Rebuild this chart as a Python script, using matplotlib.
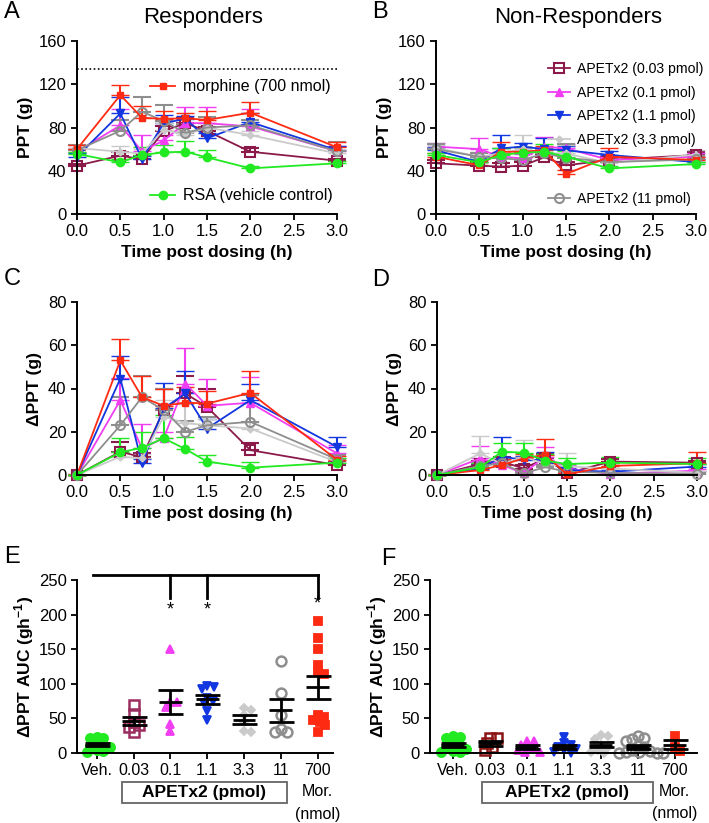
import numpy as np
import matplotlib
matplotlib.use("Agg")
import matplotlib.pyplot as plt
from matplotlib.lines import Line2D
from matplotlib.patches import Rectangle
import matplotlib.transforms as mtransforms

plt.rcParams['font.family'] = ['Liberation Sans', 'DejaVu Sans']
plt.rcParams['mathtext.fontset'] = 'custom'
plt.rcParams['mathtext.rm'] = 'Liberation Sans'
plt.rcParams['mathtext.bf'] = 'Liberation Sans:bold'

# ---- data -------------------------------------------------------------
times = [0, 0.5, 0.75, 1.0, 1.25, 1.5, 2.0, 3.0]
series_names = ['APETx2 (0.03 pmol)', 'APETx2 (0.1 pmol)', 'APETx2 (1.1 pmol)',
                'APETx2 (3.3 pmol)', 'APETx2 (11 pmol)', 'morphine (700 nmol)',
                'RSA (vehicle control)']

# Panel A: PPT responders (mean, upper SEM)
ppt_resp = {
    'maroon':  [44.7, 54, 50.6, 76.8, 83.9, 76.8, 57.6, 49.3],
    'magenta': [57.6, 82, 58, 68, 84, 84, 81, 58],
    'blue':    [53, 93, 51, 84, 88, 70, 85, 59],
    'lgray':   [61, 57.6, 56, 78, 73, 80, 73, 56],
    'gray':    [59, 77, 94.6, 86, 75, 80, 82, 58],
    'red':     [60, 110, 89, 88, 88.5, 87, 93.7, 61.7],
    'green':   [55.5, 47.8, 54.6, 57, 57.6, 52.4, 42.2, 46.9],
}
ppt_resp_err = {
    'maroon':  [2, 3, 3, 5, 5, 4, 3, 2],
    'magenta': [3, 15, 15, 5, 15, 15, 16, 5],
    'blue':    [3, 15, 3, 8, 3, 5, 8, 4],
    'lgray':   [3, 5, 4, 6, 4, 4, 4, 3],
    'gray':    [5, 10, 14, 15, 8, 10, 5, 9],
    'red':     [4, 9, 11, 7, 5, 8, 10, 5],
    'green':   [2, 3, 7.7, 6.8, 9.9, 6.6, 2, 2],
}

# Panel B: PPT non-responders
ppt_non = {
    'maroon':  [46.9, 44.7, 43.8, 44.7, 52.4, 45, 50, 54.6],
    'magenta': [62.3, 60, 53, 51.5, 62.3, 60.7, 50, 53],
    'blue':    [59, 48, 60.7, 62.3, 60, 59, 54.6, 48],
    'lgray':   [61, 53, 56, 60, 56, 56, 47, 55],
    'gray':    [60, 53, 51.5, 50, 56, 52, 48, 50.5],
    'red':     [53, 45, 57.6, 57.6, 59, 37, 53, 50],
    'green':   [54.6, 47.8, 54.6, 56.7, 57.6, 53, 42.2, 46.2],
}
ppt_non_err = {
    'maroon':  [3, 3, 3, 3, 3, 3, 3, 3],
    'magenta': [3, 10, 4, 4, 9, 4, 3, 3],
    'blue':    [3, 3, 12, 3, 10, 4, 4, 3],
    'lgray':   [3, 4, 4, 13, 5, 8, 3, 4],
    'gray':    [5, 3, 4, 6, 4, 13, 3, 3],
    'red':     [3, 3, 9, 4, 4, 4, 8, 3],
    'green':   [2, 3, 6, 5, 7, 5, 2, 2],
}

# Panel C: delta PPT responders
dppt_resp = {
    'maroon':  [0, 10.8, 8.2, 30, 37.7, 31.5, 11.5, 4.6],
    'magenta': [0, 34.6, 12.3, 17, 42.3, 32, 33.4, 10],
    'blue':    [0, 44.6, 5.4, 30.8, 37.7, 21.5, 34.6, 13],
    'lgray':   [0, 8.5, 7.7, 27, 24, 23, 21.5, 6],
    'gray':    [0, 23, 36, 30, 20, 23, 24.6, 7.2],
    'red':     [0, 53, 36, 32, 33.5, 33, 38, 7],
    'green':   [0, 10.5, 12.6, 17, 12, 6.2, 3.4, 5.7],
}
dppt_resp_err = {
    'maroon':  [0, 4.6, 2, 10, 8.3, 8.5, 3.1, 1.5],
    'magenta': [0, 10.4, 11.5, 3, 16.2, 12.6, 12, 3.8],
    'blue':    [0, 10.4, 2, 11.8, 10.3, 4.5, 7.4, 4.7],
    'lgray':   [0, 2, 2, 7.6, 9, 3, 3, 2],
    'gray':    [0, 13, 10, 10, 5, 4, 12.4, 2],
    'red':     [0, 10, 10, 8, 7, 6, 10, 2],
    'green':   [0, 6.5, 7.4, 10.7, 5.7, 3, 2.8, 2],
}

# Panel D: delta PPT non-responders
dppt_non = {
    'maroon':  [0, 5.1, 6.2, 3, 7.7, 0.8, 6.2, 5.7],
    'magenta': [0, 7.7, 4.6, 0.8, 8.5, 3, 0.5, 2],
    'blue':    [0, 3, 8.5, 7, 7, 2.3, 1.5, 3.9],
    'lgray':   [0, 10, 5, 8.5, 5, 4, 3, 1],
    'gray':    [0, 4.2, 5.4, 0.8, 3.6, 1.5, 1, 0.5],
    'red':     [0, 2.3, 4.6, 7.7, 9.3, 0.3, 4.2, 5.4],
    'green':   [0, 3.6, 10.8, 10.3, 6.6, 5.1, 5.7, 5.1],
}
dppt_non_err = {
    'maroon':  [0, 1.5, 2, 1.5, 2, 1, 1, 1],
    'magenta': [0, 5.7, 2, 1, 4.5, 1.5, 0.5, 1],
    'blue':    [0, 1.5, 9.3, 2, 3.8, 1, 1, 1],
    'lgray':   [0, 8, 2, 7.5, 2, 6, 1, 1],
    'gray':    [0, 1.5, 1.5, 1, 1, 1, 0.5, 0.5],
    'red':     [0, 1, 3, 2, 7.2, 0.5, 1.5, 5.4],
    'green':   [0, 1.8, 4.2, 4.7, 3, 2.6, 2.8, 2.6],
}

# Panels E/F: AUC per animal
auc_cats = ['Veh.', '0.03', '0.1', '1.1', '3.3', '11', '700']
auc_keys = ['green', 'maroon', 'magenta', 'blue', 'lgray', 'gray', 'red']
auc_resp = [
    [23, 22, 21, 14, 12, 10, 8, 5, 3, 2],
    [69, 57, 45, 40, 38, 31],
    [151, 74, 74, 67, 42, 32],
    [97, 95, 92, 80, 75, 72, 60, 48],
    [65, 62, 55, 45, 32, 30],
    [133, 86, 55, 35, 31, 30],
    [191, 166, 151, 127, 118, 114, 55, 52, 48, 45, 40, 31],
]
auc_non = [
    [24, 23, 22, 12, 10, 8, 6, 3, 2, 1],
    [22, 21, 14, 8, 4],
    [18, 17, 12, 9, 7, 4, 2, 1],
    [23, 14, 12, 9, 6, 4, 2, 0],
    [26, 24, 20, 12, 8, 4, 2, 0],
    [25, 22, 20, 18, 10, 8, 5, 3, 2, 1, 0, 0, 0],
    [25, 8, 3],
]

# ---- styles -----------------------------------------------------------
order = ['maroon', 'magenta', 'blue', 'lgray', 'gray', 'red', 'green']
styles = {
    'maroon':  dict(color='#8b1a4a', marker='s', mfc='none', ms=6.5, mew=1.5),
    'magenta': dict(color='#f23ef2', marker='^', mfc='#f23ef2', ms=5.5, mew=1),
    'blue':    dict(color='#1236e0', marker='v', mfc='#1236e0', ms=5.5, mew=1),
    'lgray':   dict(color='#cacaca', marker='D', mfc='#cacaca', ms=3.5, mew=1),
    'gray':    dict(color='#8e8e8e', marker='o', mfc='none', ms=6.5, mew=1.5),
    'red':     dict(color='#ff2a12', marker='s', mfc='#ff2a12', ms=5, mew=1),
    'green':   dict(color='#22ea22', marker='o', mfc='#22ea22', ms=6, mew=1),
}
labels = dict(zip(order, series_names))


def style_axes(ax):
    for s in ['top', 'right']:
        ax.spines[s].set_visible(False)
    for s in ['left', 'bottom']:
        ax.spines[s].set_linewidth(1.4)
    ax.tick_params(direction='out', length=4, width=1.3, labelsize=12)


def time_panel(ax, data, errs, ymax, ystep, ylabel):
    for key in order:
        st = styles[key]
        cont = ax.errorbar(times, data[key], yerr=[np.zeros(8), errs[key]],
                           color=st['color'], marker=st['marker'], mfc=st['mfc'],
                           mec=st['color'], ms=st['ms'], mew=st['mew'], lw=1.3,
                           capsize=6.5, capthick=1.5, elinewidth=1.5, clip_on=False)
        for art in list(cont.lines[1]) + list(cont.lines[2]):
            art.set_clip_on(False)
    ax.set_xlim(0, 3.0)
    ax.set_ylim(0, ymax)
    ax.set_xticks(np.arange(0, 3.01, 0.5))
    ax.set_xticklabels(['%.1f' % v for v in np.arange(0, 3.01, 0.5)])
    ax.set_yticks(np.arange(0, ymax + 1, ystep))
    ax.set_xlabel('Time post dosing (h)', fontsize=12.5, fontweight='bold', labelpad=4)
    ax.set_ylabel(ylabel, fontsize=12.5, fontweight='bold', labelpad=4)
    style_axes(ax)


def swarm(vals, xd, yd, step=0.03):
    # simple deterministic beeswarm so overlapping points spread sideways
    offs = np.zeros(len(vals))
    placed = []
    for i in np.argsort(vals)[::-1]:
        v = vals[i]
        k = 0
        while True:
            cands = [0.0] if k == 0 else [k * step, -k * step]
            found = None
            for c in cands:
                if all(((c - px) / xd) ** 2 + ((v - py) / yd) ** 2 >= 1 for px, py in placed):
                    found = c
                    break
            if found is not None:
                offs[i] = found
                placed.append((found, v))
                break
            k += 1
    return offs


def auc_panel(ax, groups, xlim, maroon_color, box_x, mor_y):
    for i, (vals, key) in enumerate(zip(groups, auc_keys)):
        st = styles[key]
        col = maroon_color if key == 'maroon' else st['color']
        vals = np.array(vals, dtype=float)
        offs = swarm(vals, 0.17, 9)
        ax.plot(i + offs, vals, linestyle='none', marker=st['marker'],
                mfc=(col if st['mfc'] != 'none' else 'none'), mec=col,
                ms=st['ms'] + 0.6, mew=st['mew'] + 0.3, clip_on=False, zorder=2)
        m = vals.mean()
        sem = vals.std(ddof=1) / np.sqrt(len(vals))
        ax.hlines(m, i - 0.31, i + 0.31, color='black', lw=2, zorder=3)
        ax.errorbar([i], [m], yerr=[[sem], [sem]], fmt='none', ecolor='black',
                    elinewidth=2, capsize=9, capthick=2, zorder=3)
    ax.set_xlim(*xlim)
    ax.set_ylim(0, 250)
    ax.set_yticks(np.arange(0, 251, 50))
    ax.set_xticks(range(len(auc_cats)))
    ax.set_xticklabels(auc_cats, fontsize=11.5)
    ax.set_ylabel('ΔPPT AUC (gh$^{\\mathbf{-1}}$)', fontsize=12.5, fontweight='bold', labelpad=2)
    style_axes(ax)
    ax.tick_params(axis='x', labelsize=11.5)
    tr = mtransforms.blended_transform_factory(ax.transData, ax.transAxes)
    ax.add_patch(Rectangle((box_x[0], -0.29), box_x[1] - box_x[0], 0.122,
                           transform=tr, clip_on=False, fc='white', ec='#666666', lw=1.3))
    ax.text((box_x[0] + box_x[1]) / 2, -0.229, 'APETx2 (pmol)', transform=tr,
            ha='center', va='center', fontsize=12.5, fontweight='bold')
    ax.text(6, -0.225, 'Mor.', transform=tr, ha='center', va='center', fontsize=11.5)
    ax.text(6, mor_y, '(nmol)', transform=tr, ha='center', va='center', fontsize=11.5)


def handle(key):
    st = styles[key]
    return Line2D([], [], color=st['color'], marker=st['marker'], mfc=st['mfc'],
                  mec=st['color'], ms=st['ms'], mew=st['mew'], lw=1.3,
                  label=labels[key])


def main():
    fig = plt.figure(figsize=(7.09, 8.23), dpi=100)
    W, H = 709.0, 823.0
    axA = fig.add_axes([77 / W, 609 / H, 260 / W, 173 / H])
    axB = fig.add_axes([436 / W, 609 / H, 260 / W, 173 / H])
    axC = fig.add_axes([77 / W, 348 / H, 260 / W, 173 / H])
    axD = fig.add_axes([437 / W, 348 / H, 260 / W, 173 / H])
    axE = fig.add_axes([77 / W, 70 / H, 256 / W, 173 / H])
    axF = fig.add_axes([430 / W, 70 / H, 267 / W, 173 / H])

    time_panel(axA, ppt_resp, ppt_resp_err, 160, 40, 'PPT (g)')
    time_panel(axB, ppt_non, ppt_non_err, 160, 40, 'PPT (g)')
    time_panel(axC, dppt_resp, dppt_resp_err, 80, 20, 'ΔPPT (g)')
    time_panel(axD, dppt_non, dppt_non_err, 80, 20, 'ΔPPT (g)')

    # cut-off line in A
    axA.axhline(134.5, color='black', lw=1.2, linestyle=(0, (1, 1.5)))

    # legends
    legkw = dict(frameon=False, borderpad=0, borderaxespad=0, handlelength=1.6,
                 handletextpad=0.5)
    leg1 = axA.legend(handles=[handle('red')], loc='center left',
                      bbox_to_anchor=(0.28, 0.735), fontsize=11.5, **legkw)
    axA.add_artist(leg1)
    axA.legend(handles=[handle('green')], loc='center left',
               bbox_to_anchor=(0.28, 0.105), fontsize=11.5, **legkw)
    leg3 = axB.legend(handles=[handle(k) for k in ['maroon', 'magenta', 'blue', 'lgray']],
                      loc='upper left', bbox_to_anchor=(0.43, 0.877), fontsize=10.1,
                      labelspacing=0.68, **legkw)
    axB.add_artist(leg3)
    axB.legend(handles=[handle('gray')], loc='center left',
               bbox_to_anchor=(0.43, 0.088), fontsize=10.1, **legkw)

    auc_panel(axE, auc_resp, (-0.54, 6.42), '#9b2d5f', (0.68, 5.17), -0.358)
    auc_panel(axF, auc_non, (-0.62, 6.6), '#8b1515', (0.785, 5.41), -0.347)

    # significance bracket in E
    axE.plot([-0.1, 6], [257, 257], color='black', lw=2, clip_on=False)
    for xi, star_y in [(2, 207), (3, 207), (6, 215)]:
        axE.plot([xi, xi], [257, 224], color='black', lw=2, clip_on=False)
        axE.text(xi, star_y, '*', ha='center', va='center', fontsize=13)

    # titles and panel letters
    fig.text(203 / W, 1 - 17 / H, 'Responders', ha='center', va='center', fontsize=16)
    fig.text(578 / W, 1 - 17 / H, 'Non-Responders', ha='center', va='center', fontsize=16)
    for letter, px, py in [('A', 4, 1), ('B', 372, 1), ('C', 4, 268), ('D', 372, 269),
                           ('E', 4, 546), ('F', 381, 548)]:
        fig.text(px / W, 1 - py / H, letter, ha='left', va='top', fontsize=17)

    fig.savefig('out.png', dpi=100)


if __name__ == "__main__":
    main()
